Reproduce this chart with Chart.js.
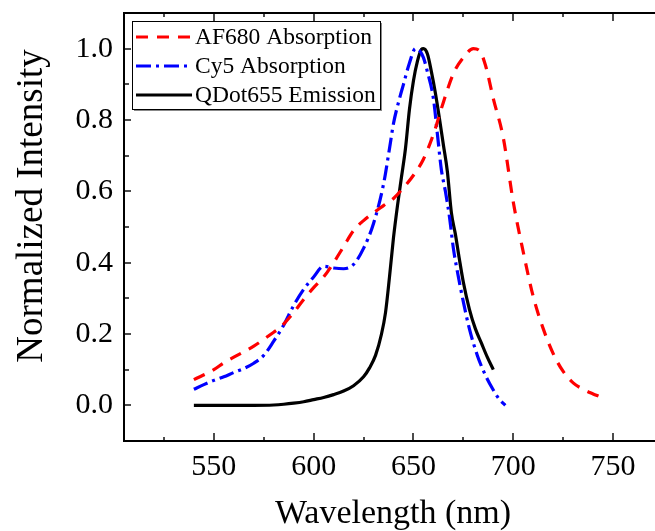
<!DOCTYPE html>
<html>
<head>
<meta charset="utf-8">
<script src="https://cdn.jsdelivr.net/npm/chart.js@4.4.1/dist/chart.umd.min.js"></script>
<style>
html,body{margin:0;padding:0;background:#fff;overflow:hidden;}
#wrap{width:655px;height:531px;position:relative;}
</style>
</head>
<body>
<div id="wrap"><canvas id="c" width="655" height="531"></canvas></div>
<script>
// ---- data ----
const seriesNames = ['AF680 Absorption', 'Cy5 Absorption', 'QDot655 Emission'];

const af680Wl = [540,550,555,560,570,580,583,590,595,600,605,610,615,620,625,630,635,640,645,650,655,660,665,670,675,680,683,686,690,695,700,705,710,715,720,725,730,735,740,743];
const af680Val = [0.072,0.10,0.119,0.135,0.166,0.205,0.217,0.26,0.297,0.33,0.36,0.40,0.445,0.49,0.518,0.54,0.56,0.58,0.61,0.645,0.69,0.76,0.85,0.93,0.975,1.0,0.995,0.955,0.86,0.75,0.57,0.43,0.305,0.215,0.145,0.095,0.063,0.045,0.032,0.025];

const cy5Wl = [540,545,550,555,560,565,570,575,580,585,590,595,600,605,610,615,620,625,630,635,638,640,643,645,648,651,653,655,657,660,662,664,666,668,670,672,675,678,682,686,690,693,696];
const cy5Val = [0.045,0.058,0.07,0.08,0.092,0.103,0.118,0.14,0.18,0.225,0.28,0.325,0.36,0.39,0.385,0.383,0.395,0.44,0.51,0.62,0.72,0.79,0.86,0.90,0.96,1.0,0.995,0.975,0.935,0.86,0.76,0.66,0.60,0.53,0.44,0.375,0.29,0.215,0.14,0.085,0.043,0.017,0.0];

const qdotWl = [540,550,560,570,580,585,590,595,600,605,610,615,620,625,628,631,634,636,638,640,642,644,646,648,650,652,654,655,657,659,661,663,665,667,669,671,673,675,678,681,684,687,690];
const qdotVal = [0,0,0,0,0.001,0.003,0.006,0.01,0.016,0.022,0.03,0.04,0.055,0.08,0.105,0.14,0.2,0.26,0.36,0.47,0.56,0.64,0.72,0.83,0.91,0.965,0.998,1.0,0.985,0.935,0.875,0.805,0.73,0.655,0.54,0.48,0.41,0.345,0.27,0.215,0.175,0.135,0.1];

const xTickValues = [550,600,650,700,750];
const yTickValues = [0.0,0.2,0.4,0.6,0.8,1.0];
const xTitle = 'Wavelength (nm)';
const yTitle = 'Normalized Intensity';

const toPts = (xs, ys) => xs.map((x, i) => ({x, y: ys[i]}));

const SERIF = '"Liberation Serif","Times New Roman",serif';

const framePlugin = {
  id: 'frame',
  afterDraw(chart) {
    const {ctx, chartArea: a, scales: {x, y}} = chart;
    ctx.save();

    // axis titles
    ctx.fillStyle = '#000';
    ctx.textAlign = 'center';
    ctx.textBaseline = 'alphabetic';
    ctx.font = '34px ' + SERIF;
    ctx.fillText(xTitle, 393, 523);
    ctx.save();
    ctx.translate(42, 206);
    ctx.rotate(-Math.PI / 2);
    ctx.font = '37px ' + SERIF;
    ctx.fillText(yTitle, 0, 0);
    ctx.restore();

    // legend
    const bx = 132, by = 21, bw = 248, bh = 88;
    ctx.fillStyle = '#888';
    ctx.fillRect(bx + 2, by + bh, bw, 2);
    ctx.fillRect(bx + bw, by + 2, 2, bh);
    ctx.fillStyle = '#fff';
    ctx.fillRect(bx, by, bw, bh);
    ctx.strokeStyle = '#000';
    ctx.lineWidth = 1;
    ctx.strokeRect(bx + 0.5, by + 0.5, bw, bh);
    ctx.font = '23.5px ' + SERIF;
    ctx.textAlign = 'left';
    ctx.textBaseline = 'middle';
    chart.data.datasets.forEach((ds, i) => {
      const ry = by + 16 + i * 29;
      ctx.save();
      ctx.strokeStyle = ds.borderColor;
      ctx.lineWidth = ds.borderWidth;
      ctx.setLineDash(ds.borderDash || []);
      ctx.beginPath();
      ctx.moveTo(bx + 4, ry); ctx.lineTo(bx + 60, ry);
      ctx.stroke();
      ctx.restore();
      ctx.fillStyle = '#000';
      ctx.fillText(ds.label, bx + 63, ry + 1);
    });

    // frame lines (top, left, bottom)
    ctx.fillStyle = '#000';
    ctx.fillRect(a.left - 1, a.top - 1, chart.width - a.left + 1, 2);
    ctx.fillRect(a.left - 1, a.top - 1, 2, a.bottom - a.top + 2);
    ctx.fillRect(a.left - 1, a.bottom - 1, chart.width - a.left + 1, 2);
    // x ticks (inward), bottom and top
    for (let v = 525; v <= x.max; v += 25) {
      const px = Math.round(x.getPixelForValue(v));
      const L = (v % 50 === 0) ? 8 : 4;
      ctx.fillRect(px - 0.7, a.bottom - L, 1.4, L);
      ctx.fillRect(px - 0.7, a.top, 1.4, L);
    }
    // y ticks (inward)
    for (let k = 0; k <= 10; k++) {
      const py = Math.round(y.getPixelForValue(k / 10));
      const L = (k % 2 === 0) ? 7 : 5;
      ctx.fillRect(a.left, py - 0.7, L, 1.4);
    }
    ctx.restore();
  }
};

new Chart(document.getElementById('c'), {
  type: 'line',
  data: {
    datasets: [
      {label: seriesNames[0], data: toPts(af680Wl, af680Val), borderColor: '#ff0000', borderWidth: 3.2, borderDash: [12, 9], pointRadius: 0, cubicInterpolationMode: 'monotone', fill: false},
      {label: seriesNames[1], data: toPts(cy5Wl, cy5Val), borderColor: '#0000ff', borderWidth: 3.2, borderDash: [15, 5, 3, 5], pointRadius: 0, cubicInterpolationMode: 'monotone', fill: false},
      {label: seriesNames[2], data: toPts(qdotWl, qdotVal), borderColor: '#000000', borderWidth: 3.2, pointRadius: 0, cubicInterpolationMode: 'monotone', fill: false}
    ]
  },
  options: {
    responsive: false,
    animation: false,
    devicePixelRatio: 1,
    layout: {padding: {left: 0, right: 0, top: 13, bottom: 0}},
    plugins: {legend: {display: false}, tooltip: {enabled: false}},
    scales: {
      x: {
        type: 'linear', min: 505, max: 771,
        afterBuildTicks: s => { s.ticks = xTickValues.map(v => ({value: v})); },
        afterFit: s => { s.height = 90; s.paddingLeft = 0; s.paddingRight = 0; },
        grid: {display: false, drawTicks: false},
        border: {display: false},
        ticks: {color: '#000', font: {family: SERIF, size: 30}, padding: 8, maxRotation: 0, autoSkip: false, callback: v => String(v)}
      },
      y: {
        type: 'linear', min: -0.1, max: 1.1,
        afterBuildTicks: s => { s.ticks = yTickValues.map(v => ({value: v})); },
        afterFit: s => { s.width = 124; s.paddingTop = 0; s.paddingBottom = 0; },
        grid: {display: false, drawTicks: false},
        border: {display: false},
        ticks: {color: '#000', font: {family: SERIF, size: 30}, padding: 11, autoSkip: false, callback: v => Number(v).toFixed(1)}
      }
    }
  },
  plugins: [framePlugin]
});
</script>
</body>
</html>
